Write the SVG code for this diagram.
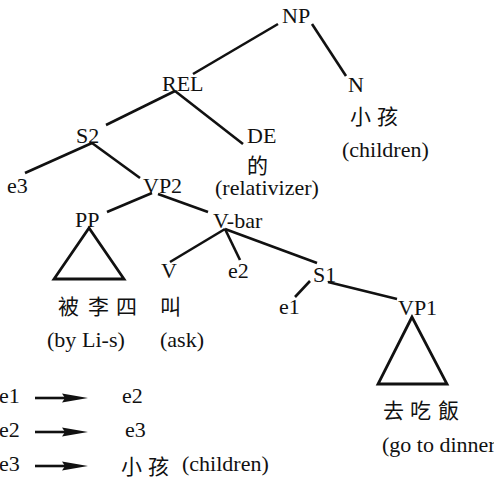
<svg xmlns="http://www.w3.org/2000/svg" width="494" height="496" viewBox="0 0 494 496">
  <style>
    .lbl { font-family: "Liberation Serif", "Times New Roman", Tinos, "DejaVu Serif", serif; font-size: 22px; fill: #111; }
    .cjk { font-family: "Noto Sans CJK TC", "Noto Sans CJK SC", sans-serif; font-size: 21px; fill: #111; }
    .edge { stroke: #111; stroke-width: 2.6; fill: none; stroke-linecap: butt; }
    .tri { stroke: #111; stroke-width: 2.8; fill: none; stroke-linejoin: miter; }
    .head { fill: #111; }
  </style>
  <rect width="494" height="496" fill="#fff"/>

  <!-- tree branches -->
  <g id="connectors">
    <line class="edge" x1="278" y1="24" x2="193" y2="74"/>
    <line class="edge" x1="312" y1="24" x2="346" y2="76"/>
    <line class="edge" x1="175" y1="91" x2="106" y2="125"/>
    <line class="edge" x1="175" y1="91" x2="243" y2="144"/>
    <line class="edge" x1="92" y1="143" x2="25" y2="173"/>
    <line class="edge" x1="92" y1="143" x2="140" y2="178"/>
    <line class="edge" x1="152" y1="193" x2="107" y2="212"/>
    <line class="edge" x1="158" y1="194" x2="208" y2="212"/>
    <line class="edge" x1="225" y1="229" x2="170" y2="262"/>
    <line class="edge" x1="225" y1="229" x2="240" y2="260"/>
    <line class="edge" x1="225" y1="229" x2="317" y2="263"/>
    <line class="edge" x1="310" y1="281" x2="295" y2="297"/>
    <line class="edge" x1="328" y1="282" x2="397" y2="299"/>
  </g>

  <g id="np"><text class="lbl" x="282" y="23">NP</text></g>
  <g id="rel"><text class="lbl" x="162" y="91">REL</text></g>
  <g id="n">
    <text class="lbl" x="348" y="92">N</text>
    <text class="cjk" y="124"><tspan x="350">小</tspan><tspan x="377">孩</tspan></text>
    <text class="lbl" x="342" y="157">(children)</text>
  </g>
  <g id="de">
    <text class="lbl" x="247" y="143">DE</text>
    <text class="cjk" x="247" y="173">的</text>
    <text class="lbl" x="215" y="195">(relativizer)</text>
  </g>
  <g id="s2"><text class="lbl" x="76" y="143">S2</text></g>
  <g id="e3"><text class="lbl" x="7" y="193">e3</text></g>
  <g id="vp2"><text class="lbl" x="143" y="193">VP2</text></g>
  <g id="pp">
    <text class="lbl" x="75" y="227">PP</text>
    <polygon class="tri" points="89,228 54,279 124,279"/>
    <text class="cjk" y="314"><tspan x="58">被</tspan><tspan x="88">李</tspan><tspan x="116">四</tspan></text>
    <text class="lbl" y="347"><tspan x="47">(by</tspan><tspan x="82">Li-s)</tspan></text>
  </g>
  <g id="vbar"><text class="lbl" x="213" y="228">V-bar</text></g>
  <g id="v">
    <text class="lbl" x="161" y="278">V</text>
    <text class="cjk" x="160" y="314">叫</text>
    <text class="lbl" x="160" y="347">(ask)</text>
  </g>
  <g id="e2"><text class="lbl" x="228" y="278">e2</text></g>
  <g id="s1"><text class="lbl" x="313" y="282">S1</text></g>
  <g id="e1"><text class="lbl" x="279" y="314">e1</text></g>
  <g id="vp1">
    <text class="lbl" x="398" y="315">VP1</text>
    <polygon class="tri" points="412,317 378,384 447,384"/>
    <text class="cjk" y="418"><tspan x="383">去</tspan><tspan x="410">吃</tspan><tspan x="438">飯</tspan></text>
    <text class="lbl" x="382" y="452">(go to dinner)</text>
  </g>

  <!-- coindexation key: shaft plus filled head -->
  <g id="legend">
    <text class="lbl" x="-1" y="403">e1</text>
    <line class="edge" x1="35" y1="398" x2="66" y2="398"/>
    <path class="head" d="M62,393.5 L88,398 L62,402.5 L65,398 Z"/>
    <text class="lbl" x="122" y="403">e2</text>

    <text class="lbl" x="-1" y="437">e2</text>
    <line class="edge" x1="35" y1="432" x2="66" y2="432"/>
    <path class="head" d="M62,427.5 L88,432 L62,436.5 L65,432 Z"/>
    <text class="lbl" x="125" y="437">e3</text>

    <text class="lbl" x="-1" y="471">e3</text>
    <line class="edge" x1="35" y1="466" x2="66" y2="466"/>
    <path class="head" d="M62,461.5 L88,466 L62,470.5 L65,466 Z"/>
    <text class="cjk" y="474"><tspan x="121">小</tspan><tspan x="148">孩</tspan></text>
    <text class="lbl" x="182" y="471">(children)</text>
  </g>
</svg>
